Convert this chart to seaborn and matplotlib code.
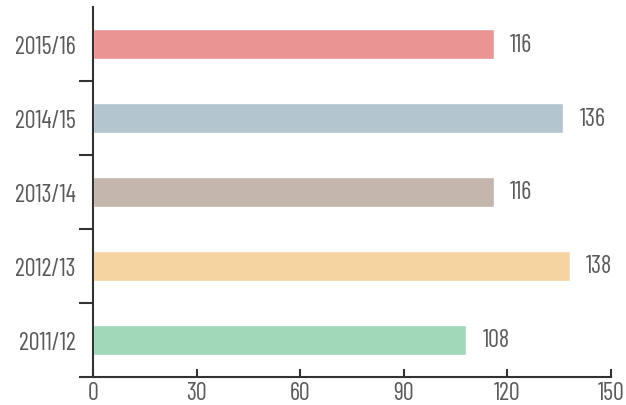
import matplotlib
matplotlib.use("Agg")
import matplotlib.pyplot as plt
import seaborn as sns
import pandas as pd

# Chart data
seasons = ['2015/16', '2014/15', '2013/14', '2012/13', '2011/12']
values = [116, 136, 116, 138, 108]
colors = ['#EA9594', '#B3C5CF', '#C4B5AD', '#F6D4A2', '#A0D8B9']
x_ticks = [0, 30, 60, 90, 120, 150]

sns.set_style('white')
plt.rcParams['font.family'] = ['Barlow Condensed', 'Liberation Sans', 'DejaVu Sans']

df = pd.DataFrame({'season': seasons, 'value': values})

fig = plt.figure(figsize=(6.26, 4.06), dpi=100)
ax = fig.add_axes([93 / 626, 28 / 406, (611 - 93) / 626, 370 / 406])

sns.barplot(data=df, x='value', y='season', hue='season', palette=colors,
            legend=False, width=0.41, saturation=1, ax=ax)

ax.set_xlim(0, 150)
ax.set_ylim(len(seasons) - 0.5, -0.5)
ax.set_xticks(x_ticks)
ax.set_xlabel('')
ax.set_ylabel('')

for s in ['top', 'right']:
    ax.spines[s].set_visible(False)
for s in ['left', 'bottom']:
    ax.spines[s].set_color('#333333')
    ax.spines[s].set_linewidth(1.5)

# x ticks point inward
ax.tick_params(axis='x', bottom=True, direction='in', length=6, width=1.5,
               color='#333333', labelsize=17.5, labelcolor='#5a5a5a', pad=3)

# y labels at bar centres without ticks, ticks at category boundaries
ax.set_yticks(range(len(seasons)))
ax.set_yticklabels(seasons)
ax.tick_params(axis='y', left=False, labelsize=17.5, labelcolor='#5a5a5a', pad=9)
ax.set_yticks([i + 0.5 for i in range(len(seasons) - 1)] + [len(seasons) - 0.5], minor=True)
ax.tick_params(axis='y', which='minor', left=True, direction='out', length=10,
               width=1.5, color='#333333')

for i, v in enumerate(values):
    ax.annotate(str(v), (v, i), xytext=(12, 0), textcoords='offset points',
                va='center', ha='left', fontsize=17.5, color='#5a5a5a')

fig.savefig('out.png', dpi=100)
